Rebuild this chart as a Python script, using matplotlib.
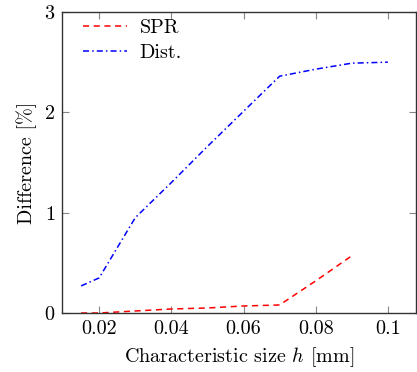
import matplotlib
matplotlib.use("Agg")
import matplotlib.pyplot as plt

h_spr = [0.015, 0.02, 0.03, 0.04, 0.05, 0.06, 0.07, 0.08, 0.09]
spr = [0.0, 0.0, 0.02, 0.04, 0.05, 0.07, 0.08, 0.32, 0.57]
h_dist = [0.015, 0.02, 0.03, 0.04, 0.05, 0.06, 0.07, 0.08, 0.09, 0.1]
dist = [0.27, 0.35, 0.95, 1.30, 1.66, 2.01, 2.36, 2.43, 2.49, 2.50]
xticks = [0.02, 0.04, 0.06, 0.08, 0.1]
xticklabels = ["0.02", "0.04", "0.06", "0.08", "0.1"]
yticks = [0, 1, 2, 3]

plt.rcParams['font.family'] = 'serif'
plt.rcParams['font.serif'] = ['cmr10', 'DejaVu Serif']
plt.rcParams['mathtext.fontset'] = 'cm'
plt.rcParams['axes.formatter.use_mathtext'] = True

FS = 14.5
fig = plt.figure(figsize=(4.17, 3.72), dpi=100)
ax = fig.add_axes([62/417, 59/372, 354/417, 301/372])

ax.plot(h_spr, spr, color='#ff0000', linestyle=(0, (4, 3)), linewidth=1.1, label='SPR')
ax.plot(h_dist, dist, color='#0000ff', linestyle=(0, (4, 2, 1, 2)), linewidth=1.1, label='Dist.')

ax.set_xlim(0.0097, 0.1078)
ax.set_ylim(0, 3)
ax.set_xticks(xticks)
ax.set_xticklabels(xticklabels)
ax.set_yticks(yticks)
ax.tick_params(direction='in', top=True, right=True, length=5, width=0.8,
               color='#888888', labelsize=FS, pad=5)
for s in ax.spines.values():
    s.set_color('#333333')
    s.set_linewidth(1.0)

ax.set_xlabel(r'Characteristic size $h$ [mm]', fontsize=FS, labelpad=5)
ax.set_ylabel('Difference [%]', fontsize=FS, labelpad=5)

leg = ax.legend(loc='upper left', bbox_to_anchor=(0.037, 1.003), frameon=False,
                fontsize=FS, handlelength=2.2, handletextpad=0.6,
                borderaxespad=0.0, labelspacing=0.35)

fig.savefig('out.png', dpi=100)
